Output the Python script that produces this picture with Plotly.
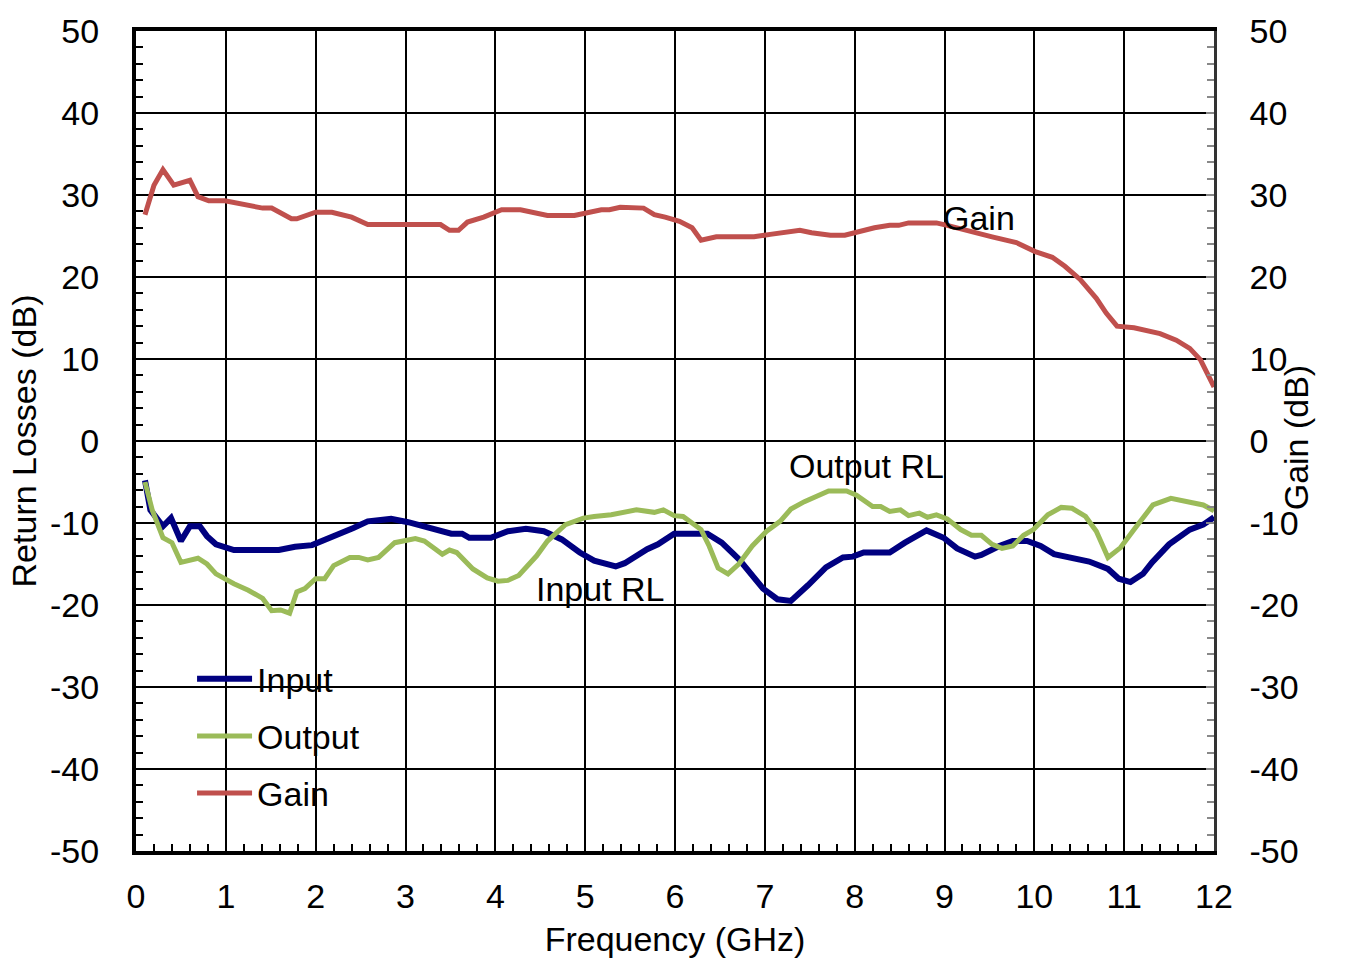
import plotly.graph_objects as go

# ---- data ----
gain_f = [0.10, 0.20, 0.30, 0.42, 0.60, 0.69, 0.81, 0.99, 1.41, 1.51, 1.73, 1.79, 2.00, 2.18, 2.40, 2.58,
          3.39, 3.49, 3.59, 3.69, 3.87, 4.07, 4.28, 4.58, 4.88, 5.18, 5.27, 5.39, 5.65, 5.77, 5.89, 6.05,
          6.19, 6.29, 6.46, 6.88, 7.06, 7.21, 7.39, 7.52, 7.73, 7.89, 8.06, 8.22, 8.39, 8.49, 8.60, 8.91,
          9.03, 9.26, 9.53, 9.80, 10.01, 10.20, 10.34, 10.51, 10.69, 10.80, 10.92, 11.11, 11.40, 11.58,
          11.73, 11.85, 12.00]
gain_db = [27.6, 31.2, 33.1, 31.2, 31.8, 29.8, 29.3, 29.3, 28.4, 28.4, 27.1, 27.1, 27.9, 27.9, 27.3, 26.4,
           26.4, 25.7, 25.7, 26.7, 27.3, 28.2, 28.2, 27.5, 27.5, 28.2, 28.2, 28.5, 28.4, 27.6, 27.3, 26.8,
           26.0, 24.5, 24.9, 24.9, 25.2, 25.4, 25.7, 25.4, 25.1, 25.1, 25.6, 26.0, 26.3, 26.3, 26.6, 26.6,
           26.3, 25.6, 24.9, 24.2, 23.1, 22.4, 21.3, 19.7, 17.4, 15.6, 14.0, 13.8, 13.1, 12.3,
           11.3, 9.9, 6.6]

input_f = [0.10, 0.16, 0.30, 0.39, 0.50, 0.60, 0.71, 0.79, 0.89, 1.09, 1.59, 1.77, 1.96, 2.10, 2.24, 2.42,
           2.58, 2.84, 3.03, 3.31, 3.51, 3.63, 3.71, 3.95, 4.14, 4.34, 4.54, 4.74, 4.94, 5.10, 5.34, 5.44,
           5.57, 5.69, 5.81, 5.99, 6.36, 6.52, 6.71, 6.98, 7.14, 7.29, 7.48, 7.68, 7.87, 7.98, 8.10, 8.39,
           8.56, 8.80, 8.99, 9.14, 9.34, 9.41, 9.61, 9.76, 9.92, 10.07, 10.22, 10.38, 10.61, 10.82, 10.94,
           11.07, 11.21, 11.31, 11.50, 11.73, 11.88, 12.00]
input_db = [-4.8, -8.4, -10.4, -9.4, -12.2, -10.4, -10.4, -11.6, -12.6, -13.3, -13.3, -12.9, -12.7, -12.1,
            -11.4, -10.6, -9.8, -9.5, -9.9, -10.8, -11.3, -11.3, -11.8, -11.8, -11.0, -10.7, -11.0, -12.0,
            -13.6, -14.6, -15.3, -14.9, -14.0, -13.2, -12.6, -11.3, -11.3, -12.4, -14.4, -18.0, -19.3, -19.5,
            -17.6, -15.4, -14.2, -14.1, -13.6, -13.6, -12.4, -10.9, -11.8, -13.1, -14.1, -13.9, -12.8, -12.2,
            -12.2, -12.8, -13.8, -14.2, -14.7, -15.6, -16.8, -17.2, -16.2, -14.8, -12.6, -10.8, -10.2, -9.3]

output_f = [0.10, 0.18, 0.30, 0.40, 0.50, 0.69, 0.79, 0.89, 1.09, 1.25, 1.41, 1.51, 1.61, 1.71, 1.79, 1.88,
            2.00, 2.10, 2.20, 2.38, 2.48, 2.58, 2.70, 2.88, 3.11, 3.21, 3.41, 3.49, 3.57, 3.75, 3.91, 4.03,
            4.14, 4.26, 4.46, 4.58, 4.78, 4.98, 5.10, 5.29, 5.57, 5.77, 5.87, 5.99, 6.09, 6.29, 6.38, 6.48,
            6.59, 6.71, 6.86, 7.02, 7.17, 7.29, 7.44, 7.71, 7.91, 8.02, 8.20, 8.29, 8.39, 8.51, 8.60, 8.72,
            8.81, 8.91, 9.03, 9.18, 9.30, 9.41, 9.53, 9.64, 9.76, 9.88, 9.99, 10.15, 10.30, 10.42, 10.57,
            10.69, 10.82, 10.96, 11.11, 11.32, 11.52, 11.73, 11.88, 12.00]
output_db = [-5.0, -8.4, -11.8, -12.4, -14.8, -14.3, -15.0, -16.2, -17.4, -18.2, -19.2, -20.7, -20.6, -21.0,
             -18.4, -18.0, -16.8, -16.8, -15.2, -14.2, -14.2, -14.5, -14.2, -12.4, -11.9, -12.2, -13.8, -13.3,
             -13.6, -15.6, -16.7, -17.1, -17.0, -16.4, -14.0, -12.2, -10.2, -9.4, -9.2, -9.0, -8.4, -8.7, -8.4,
             -9.1, -9.2, -10.8, -12.8, -15.5, -16.2, -15.0, -12.8, -11.0, -9.8, -8.3, -7.4, -6.1, -6.1, -6.6,
             -8.0, -8.0, -8.6, -8.4, -9.1, -8.8, -9.3, -9.0, -9.5, -10.8, -11.5, -11.5, -12.6, -13.1, -12.8,
             -11.5, -10.8, -9.0, -8.1, -8.2, -9.2, -11.0, -14.2, -13.0, -10.8, -7.8, -7.0, -7.5, -7.8, -8.5]

x_ticks = list(range(0, 13))
y_ticks = list(range(-50, 51, 10))

FONT = "Liberation Sans, Arial, sans-serif"
FS = 34

fig = go.Figure()
fig.add_trace(go.Scatter(x=input_f, y=input_db, name="Input", mode="lines",
                         line=dict(color="#000080", width=6), legendgroup="a"))
fig.add_trace(go.Scatter(x=output_f, y=output_db, name="Output", mode="lines",
                         line=dict(color="#9BBB59", width=5), legendgroup="b"))
fig.add_trace(go.Scatter(x=gain_f, y=gain_db, name="Gain", mode="lines", yaxis="y2",
                         line=dict(color="#C0504D", width=5), legendgroup="c"))

fig.update_layout(
    width=1349, height=965,
    margin=dict(l=136, r=135, t=24, b=114),
    paper_bgcolor="white", plot_bgcolor="white",
    font=dict(family=FONT, size=FS, color="black"),
    showlegend=True,
    legend=dict(x=0.052, y=0.245, xanchor="left", yanchor="top",
                bgcolor="rgba(0,0,0,0)", font=dict(size=FS),
                tracegroupgap=10, itemwidth=55),
    xaxis=dict(range=[0, 12], tickvals=x_ticks, ticktext=[str(v) for v in x_ticks],
               showgrid=True, gridcolor="black", gridwidth=1.5,
               showline=True, linecolor="black", linewidth=4, mirror=True,
               ticks="inside", ticklen=8, tickcolor="black", tickwidth=1.5,
               minor=dict(dtick=0.2, ticks="inside", ticklen=7, tickcolor="black", tickwidth=1.5, showgrid=False),
               zeroline=False, ticklabelstandoff=12,
               title=dict(text="Frequency (GHz)", font=dict(size=FS), standoff=14)),
    yaxis=dict(range=[-50, 50], tickvals=y_ticks, ticktext=[str(v) for v in y_ticks],
               showgrid=True, gridcolor="black", gridwidth=1.5,
               showline=True, linecolor="black", linewidth=4, mirror=False,
               ticks="inside", ticklen=8, tickcolor="black", tickwidth=1.5,
               minor=dict(dtick=2, ticks="inside", ticklen=7, tickcolor="black", tickwidth=1.5, showgrid=False),
               zeroline=False, ticklabelstandoff=26,
               title=dict(text="Return Losses (dB)", font=dict(size=FS), standoff=4)),
    yaxis2=dict(range=[-50, 50], tickvals=y_ticks, ticktext=[str(v) for v in y_ticks],
                overlaying="y", side="right", showgrid=False,
                showline=True, linecolor="#333333", linewidth=2.5,
                ticks="inside", ticklen=8, tickcolor="#888888", tickwidth=1.5,
                minor=dict(dtick=2, ticks="inside", ticklen=7, tickcolor="#888888", tickwidth=1.5),
                zeroline=False, ticklabelstandoff=26),
)

fig.add_annotation(x=1.095, y=0.505, xref="paper", yref="paper", text="Gain (dB)", showarrow=False,
                   textangle=-90, font=dict(size=FS, family=FONT, color="black"))
fig.add_annotation(x=9.38, y=27.2, xref="x", yref="y", text="Gain", showarrow=False,
                   font=dict(size=FS, family=FONT, color="black"))
fig.add_annotation(x=8.13, y=-3.0, xref="x", yref="y", text="Output RL", showarrow=False,
                   font=dict(size=FS, family=FONT, color="black"))
fig.add_annotation(x=5.17, y=-18.0, xref="x", yref="y", text="Input RL", showarrow=False,
                   font=dict(size=FS, family=FONT, color="black"))

fig.write_html("out.html")
